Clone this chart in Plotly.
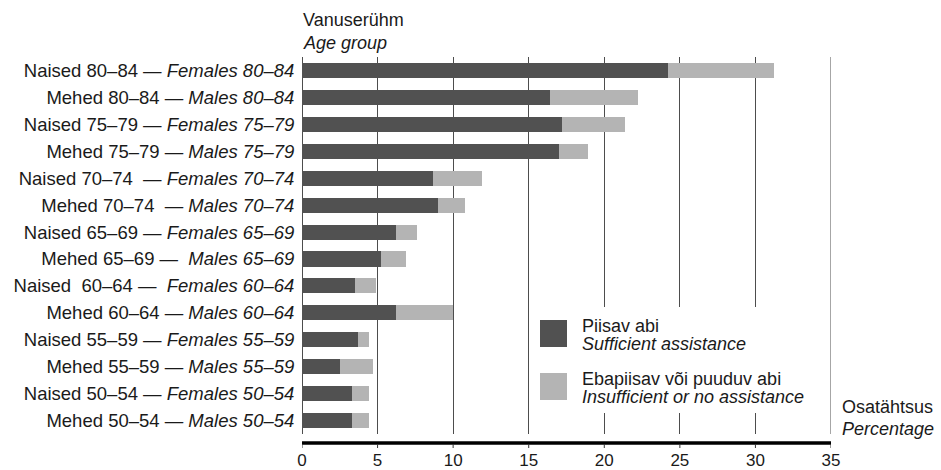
import plotly.graph_objects as go

# ---- data (top to bottom) ----
est_labels = ["Naised 80–84", "Mehed 80–84", "Naised 75–79", "Mehed 75–79",
              "Naised 70–74\u00a0", "Mehed 70–74\u00a0", "Naised 65–69", "Mehed 65–69",
              "Naised\u00a0 60–64", "Mehed 60–64", "Naised 55–59", "Mehed 55–59",
              "Naised 50–54", "Mehed 50–54"]
eng_labels = ["Females 80–84", "Males 80–84", "Females 75–79", "Males 75–79",
              "Females 70–74", "Males 70–74", "Females 65–69", "\u00a0Males 65–69",
              "\u00a0Females 60–64", "Males 60–64", "Females 55–59", "Males 55–59",
              "Females 50–54", "Males 50–54"]
sufficient = [24.2, 16.4, 17.2, 17.0, 8.7, 9.0, 6.2, 5.2, 3.5, 6.2, 3.7, 2.5, 3.3, 3.3]
insufficient = [7.0, 5.8, 4.2, 1.9, 3.2, 1.8, 1.4, 1.7, 1.4, 3.8, 0.7, 2.2, 1.1, 1.1]
x_ticks = [0, 5, 10, 15, 20, 25, 30, 35]

series_names = ["Piisav abi — Sufficient assistance",
                "Ebapiisav või puuduv abi — Insufficient or no assistance"]
colors = ["#515151", "#b4b4b4"]

cats = [f"{e} — <i>{g}</i>" for e, g in zip(est_labels, eng_labels)]

FONT = "Liberation Sans, Arial, sans-serif"
FS = 18
TXT = "#1a1a1a"
GRID = "#4d4d4d"

fig = go.Figure()
fig.add_trace(go.Bar(y=cats, x=sufficient, orientation="h", name=series_names[0],
                     marker=dict(color=colors[0], line=dict(width=0)), hoverinfo="skip"))
fig.add_trace(go.Bar(y=cats, x=insufficient, orientation="h", name=series_names[1],
                     marker=dict(color=colors[1], line=dict(width=0)), hoverinfo="skip"))

L, R, T, B = 302, 110, 57, 36
W, H = 941, 470
pw, ph = W - L - R, H - T - B

def px_x(p):
    return (p - L) / pw

def px_y(p):
    return (H - B - p) / ph

shapes = [
    # gridline at the right edge (35)
    dict(type="line", xref="x", yref="paper", x0=x_ticks[-1], x1=x_ticks[-1],
         y0=0, y1=1, line=dict(color=GRID, width=1), layer="below"),
    # x axis line (thick, offset below plot)
    dict(type="line", xref="x", yref="paper", x0=x_ticks[0], x1=x_ticks[-1],
         y0=px_y(443), y1=px_y(443), line=dict(color="black", width=3.5)),
]
# small tick marks below the axis line
for t in x_ticks:
    shapes.append(dict(type="line", xref="x", yref="paper", x0=t, x1=t,
                       y0=px_y(444), y1=px_y(448), line=dict(color="#333333", width=1)))
shapes += [
    # legend background
    dict(type="rect", xref="paper", yref="paper", x0=px_x(536), x1=px_x(816),
         y0=px_y(413), y1=px_y(307), fillcolor="white", line=dict(width=0), layer="above"),
    dict(type="rect", xref="paper", yref="paper", x0=px_x(540), x1=px_x(567),
         y0=px_y(347), y1=px_y(320), fillcolor=colors[0], line=dict(width=0), layer="above"),
    dict(type="rect", xref="paper", yref="paper", x0=px_x(540), x1=px_x(567),
         y0=px_y(400), y1=px_y(373), fillcolor=colors[1], line=dict(width=0), layer="above"),
]

def ann(text, xp, yp, xa="left", size=FS):
    return dict(text=text, xref="paper", yref="paper", x=px_x(xp), y=px_y(yp),
                xanchor=xa, yanchor="middle", showarrow=False,
                font=dict(family=FONT, size=size, color=TXT))

annotations = [
    ann("Vanuserühm", 301, 20),
    ann("<i>Age group</i>", 301, 43),
    ann("Osatähtsus", 840, 407),
    ann("<i>Percentage</i>", 840, 429),
    ann("Piisav abi", 580, 326),
    ann("<i>Sufficient assistance</i>", 580, 344),
    ann("Ebapiisav või puuduv abi", 580, 379),
    ann("<i>Insufficient or no assistance</i>", 580, 397),
]

fig.update_layout(
    width=W, height=H,
    margin=dict(l=L, r=R, t=T, b=B, pad=0),
    barmode="stack",
    bargap=0.44,
    showlegend=False,
    plot_bgcolor="white", paper_bgcolor="white",
    font=dict(family=FONT, size=FS, color=TXT),
    shapes=shapes,
    annotations=annotations,
    xaxis=dict(range=[0, 35], tickvals=x_ticks, showgrid=True, gridcolor=GRID,
               gridwidth=1, zeroline=True, zerolinecolor=GRID, zerolinewidth=1,
               showline=False, ticks="outside", ticklen=11, tickcolor="rgba(0,0,0,0)",
               tickfont=dict(family=FONT, size=17, color=TXT), fixedrange=True,
               automargin=False),
    yaxis=dict(autorange="reversed", showgrid=False, showline=False, zeroline=False,
               ticks="outside", ticklen=3, tickcolor="rgba(0,0,0,0)",
               tickfont=dict(family=FONT, size=18.5, color=TXT), fixedrange=True,
               automargin=False),
)

fig.write_html("out.html", config={"displayModeBar": False},
               post_script="document.body.style.margin='0px';")
